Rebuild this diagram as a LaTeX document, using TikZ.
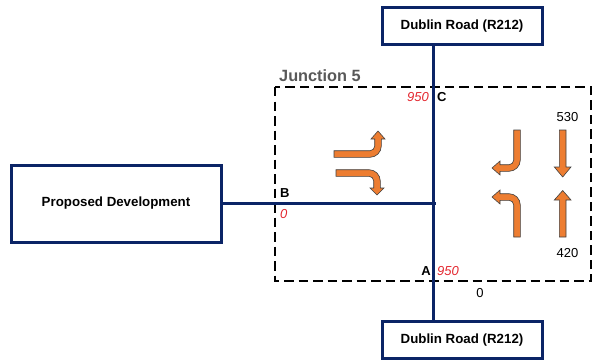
\documentclass[tikz,border=0pt]{standalone}
\usepackage{fontspec}
\setmainfont{Liberation Sans}
\definecolor{navy}{HTML}{0B2466}
\definecolor{arrowor}{HTML}{ED7D31}
\definecolor{lblred}{HTML}{E3262E}
\definecolor{jgray}{HTML}{595959}
\begin{document}
\begin{tikzpicture}[x=1pt,y=-1pt,
  roadbox/.style={draw=navy,line width=3pt,fill=white,inner sep=0pt,
    font=\fontsize{13.3}{15}\selectfont\bfseries},
  road/.style={draw=navy,line width=3pt},
  dashbox/.style={draw=black,line width=2.8pt,dash pattern=on 9.5pt off 5pt},
  turnarrow/.style={fill=arrowor,draw=black!75,line width=0.6pt,line join=miter},
  redlbl/.style={text=lblred,font=\fontsize{13}{15}\selectfont\itshape,inner sep=0pt},
  letlbl/.style={font=\fontsize{13}{15}\selectfont\bfseries,inner sep=0pt},
  numlbl/.style={font=\fontsize{13}{15}\selectfont,inner sep=0pt}]
\useasboundingbox (0,0) rectangle (592,361);

% junction boundary
\draw[dashbox] (275,87) rectangle (591,281);
\node[anchor=west,inner sep=0pt,text=jgray,font=\fontsize{16.3}{18}\selectfont\bfseries] (jlabel) at (279,76) {Junction 5};

% boxes
\node[roadbox,minimum width=160pt,minimum height=37pt] (top) at (462,26.5) {Dublin Road (R212)};
\node[roadbox,minimum width=160pt,minimum height=37pt] (bot) at (462,340) {Dublin Road (R212)};
\node[roadbox,minimum width=210pt,minimum height=77pt] (dev) at (116,203.5) {Proposed Development};

% roads
\coordinate (J) at (433,203.5);
\coordinate (Je) at (436,203.5);
\draw[road] (J |- top.south) -- (J |- bot.north);
\draw[road] (dev.east) -- (Je);

% labels
\node[redlbl,anchor=east] (c950) at (429,97) {950};
\node[letlbl,anchor=west] (cC) at (437,97) {C};
\node[letlbl,anchor=west] (cB) at (280,193) {B};
\node[redlbl,anchor=west] (b0) at (280,214) {0};
\node[letlbl,anchor=east] (cA) at (431,271) {A};
\node[redlbl,anchor=west] (a950) at (437,271) {950};
\node[numlbl] (a0) at (480,293) {0};
\node[numlbl] (n530) at (567.5,117) {530};
\node[numlbl] (n420) at (567.5,253) {420};

% arrow 1: right then up
\draw[turnarrow] (334,150.7) -- (370,150.7) arc[start angle=90,end angle=0,radius=4.7]
  -- (374.7,139) -- (371,139) -- (378,131) -- (385,139) -- (381.3,139)
  -- (381.3,146) arc[start angle=0,end angle=90,radius=11.3] -- (334,157.3) -- cycle;
% arrow 2: right then down
\draw[turnarrow] (336,169.7) -- (369,169.7) arc[start angle=270,end angle=360,radius=11.3]
  -- (380.3,188) -- (384,188) -- (377,195) -- (370,188) -- (373.7,188)
  -- (373.7,181) arc[start angle=0,end angle=-90,radius=4.7] -- (336,176.3) -- cycle;
% arrow 3: down then left
\draw[turnarrow] (513.7,130) -- (520.3,130) -- (520.3,160) arc[start angle=0,end angle=90,radius=11.3]
  -- (500,171.3) -- (500,175) -- (492,168) -- (500,161) -- (500,164.7)
  -- (509,164.7) arc[start angle=90,end angle=0,radius=4.7] -- cycle;
% arrow 4: up then left
\draw[turnarrow] (513.7,237) -- (520.3,237) -- (520.3,205) arc[start angle=0,end angle=-90,radius=11.3]
  -- (500,193.7) -- (500,190) -- (492,197) -- (500,204) -- (500,200.3)
  -- (509,200.3) arc[start angle=-90,end angle=0,radius=4.7] -- cycle;
% arrow 5: straight down
\draw[turnarrow] (559.3,130) -- (566,130) -- (566,167) -- (571,167) -- (562.7,177)
  -- (554.3,167) -- (559.3,167) -- cycle;
% arrow 6: straight up
\draw[turnarrow] (559.3,237) -- (566,237) -- (566,200) -- (571,200) -- (562.7,190.5)
  -- (554.3,200) -- (559.3,200) -- cycle;
\end{tikzpicture}
\end{document}
